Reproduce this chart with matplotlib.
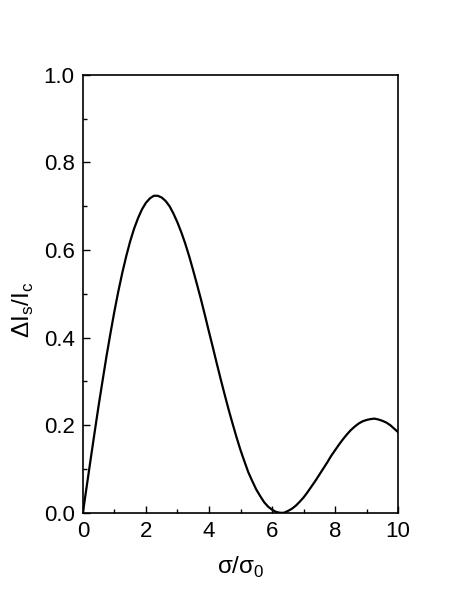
import numpy as np
import matplotlib
matplotlib.use('Agg')
import matplotlib.pyplot as plt

plt.rcParams['font.family'] = ['Liberation Sans', 'DejaVu Sans']
plt.rcParams['mathtext.fontset'] = 'custom'
plt.rcParams['mathtext.rm'] = 'Liberation Sans'

# values
sigma = [0.0, 0.125, 0.25, 0.375, 0.5, 0.625, 0.75, 0.875, 1.0, 1.125, 1.25,
         1.375, 1.5, 1.625, 1.75, 1.875, 2.0, 2.125, 2.25, 2.375, 2.5, 2.625,
         2.75, 2.875, 3.0, 3.125, 3.25, 3.375, 3.5, 3.625, 3.75, 3.875, 4.0,
         4.125, 4.25, 4.375, 4.5, 4.625, 4.75, 4.875, 5.0, 5.125, 5.25, 5.375,
         5.5, 5.625, 5.75, 5.875, 6.0, 6.125, 6.25, 6.375, 6.5, 6.625, 6.75,
         6.875, 7.0, 7.125, 7.25, 7.375, 7.5, 7.625, 7.75, 7.875, 8.0, 8.125,
         8.25, 8.375, 8.5, 8.625, 8.75, 8.875, 9.0, 9.125, 9.25, 9.375, 9.5,
         9.625, 9.75, 9.875, 10.0]
dIs = [0.0, 0.062, 0.124, 0.185, 0.245, 0.302, 0.358, 0.410, 0.460, 0.506,
       0.548, 0.586, 0.620, 0.649, 0.673, 0.693, 0.708, 0.718, 0.724, 0.724,
       0.720, 0.712, 0.700, 0.683, 0.663, 0.640, 0.614, 0.585, 0.553, 0.520,
       0.486, 0.450, 0.413, 0.377, 0.340, 0.304, 0.269, 0.235, 0.203, 0.172,
       0.143, 0.117, 0.092, 0.072, 0.053, 0.038, 0.024, 0.014, 0.007, 0.002,
       0.000, 0.000, 0.004, 0.009, 0.016, 0.025, 0.035, 0.047, 0.060, 0.073,
       0.087, 0.101, 0.115, 0.130, 0.143, 0.156, 0.168, 0.179, 0.189, 0.197,
       0.204, 0.209, 0.212, 0.214, 0.215, 0.213, 0.210, 0.206, 0.200, 0.192,
       0.184]

fig = plt.figure(figsize=(4.63, 6.09), dpi=100)
ax = fig.add_axes([0.179, 0.158, 0.681, 0.719])

ax.plot(sigma, dIs, color='black', lw=1.6)

ax.set_xlim(0, 10)
ax.set_ylim(0, 1.0)
ax.set_xticks([0, 2, 4, 6, 8, 10])
ax.set_xticks([1, 3, 5, 7, 9], minor=True)
ax.set_yticks([0.0, 0.2, 0.4, 0.6, 0.8, 1.0])
ax.set_yticks([0.1, 0.3, 0.5, 0.7, 0.9], minor=True)
ax.set_yticklabels(['0.0', '0.2', '0.4', '0.6', '0.8', '1.0'])

ax.tick_params(which='both', direction='in', top=False, right=False,
               labelsize=16, width=1.0)
ax.tick_params(which='major', length=5, pad=6)
ax.tick_params(which='minor', length=3)
for s in ax.spines.values():
    s.set_linewidth(1.2)

ax.set_xlabel('σ/σ$_\\mathregular{0}$', fontsize=17.5, labelpad=9)
ax.set_ylabel('ΔI$_\\mathregular{s}$/I$_\\mathregular{c}$', fontsize=17.5)
ax.yaxis.set_label_coords(-0.148, 0.463)

fig.savefig('out.png', dpi=100)
